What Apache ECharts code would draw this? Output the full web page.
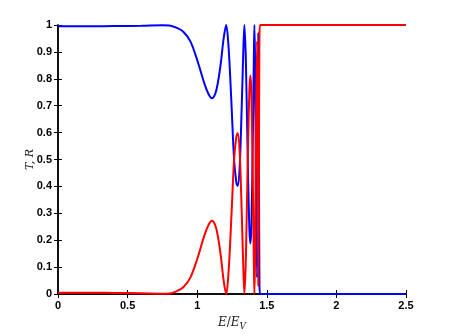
<!DOCTYPE html>
<html>
<head>
<meta charset="utf-8">
<script src="https://cdn.jsdelivr.net/npm/echarts@6/dist/echarts.min.js"></script>
<style>
  html, body { margin: 0; padding: 0; background: #fff; }
  #chart { width: 449px; height: 336px; }
</style>
</head>
<body>
<div id="chart"></div>
<script>
// energy E/E_V
const energy = [0, 0.2, 0.4, 0.6, 0.75, 0.8, 0.85, 0.9, 0.95, 1.0, 1.05, 1.08, 1.105, 1.13, 1.15, 1.17, 1.19, 1.208,
  1.225, 1.245, 1.265, 1.28, 1.291, 1.305, 1.32, 1.33, 1.339, 1.35, 1.365, 1.375, 1.382, 1.39, 1.4, 1.407, 1.411,
  1.416, 1.423, 1.43, 1.435, 1.439, 1.443, 1.447, 1.452, 1.5, 2.0, 2.5]
// transmission T (blue)
const transT = [0.995, 0.995, 0.996, 0.997, 0.999, 0.998, 0.99, 0.975, 0.94, 0.87, 0.785, 0.745, 0.728, 0.745, 0.79, 0.86, 0.95, 1.0,
  0.92, 0.72, 0.5, 0.42, 0.402, 0.47, 0.7, 0.88, 1.0, 0.86, 0.45, 0.24, 0.188, 0.26, 0.6, 0.88, 1.0,
  0.85, 0.35, 0.06, 0.45, 0.97, 0.6, 0.05, 0, 0, 0, 0]
// reflection R (red)
const reflR = [0.005, 0.005, 0.004, 0.003, 0.001, 0.002, 0.01, 0.025, 0.06, 0.13, 0.215, 0.255, 0.272, 0.255, 0.21, 0.14, 0.05, 0,
  0.08, 0.28, 0.5, 0.58, 0.598, 0.53, 0.3, 0.12, 0, 0.14, 0.55, 0.76, 0.812, 0.74, 0.4, 0.12, 0,
  0.15, 0.65, 0.94, 0.55, 0.03, 0.4, 0.95, 1, 1, 1, 1]

const tickFont = { color: '#000', fontSize: 11, fontWeight: 'bold', fontFamily: 'Liberation Sans, Arial, sans-serif' }

const chart = echarts.init(document.getElementById('chart'))
const option = {
  animation: false,
  grid: { left: 58, right: 43, top: 25, bottom: 38 },
  xAxis: [
    {
      type: 'value', min: 0, max: 2.5, interval: 0.5, position: 'bottom',
      axisLine: { lineStyle: { color: '#000', width: 1.5 } },
      axisTick: { inside: true, length: 4, lineStyle: { color: '#000' } },
      splitLine: { show: false },
      axisLabel: Object.assign({ margin: 6, formatter: v => String(v) }, tickFont),
      name: '{i|E}{n|/}{i|E}{s|V}',
      nameLocation: 'middle',
      nameGap: 20,
      nameTextStyle: {
        rich: {
          i: { fontFamily: 'DejaVu Serif', fontStyle: 'italic', fontSize: 12, color: '#222' },
          n: { fontFamily: 'DejaVu Serif', fontSize: 12, color: '#222' },
          s: { fontFamily: 'DejaVu Serif', fontStyle: 'italic', fontSize: 9, color: '#222', padding: [8, 0, 0, 0] }
        }
      }
    },
    {
      type: 'value', min: 0, max: 2.5, interval: 0.5, position: 'top',
      axisLine: { lineStyle: { color: '#000', width: 1.5 } },
      axisTick: { inside: true, length: 4, lineStyle: { color: '#000' } },
      axisLabel: { show: false },
      splitLine: { show: false }
    }
  ],
  yAxis: [
    {
      type: 'value', min: 0, max: 1, interval: 0.1, position: 'left',
      axisLine: { show: true, lineStyle: { color: '#000', width: 1.5 } },
      axisTick: { show: true, inside: true, length: 4, lineStyle: { color: '#000' } },
      splitLine: { show: false },
      axisLabel: Object.assign({ margin: 6, formatter: v => String(+v.toFixed(1)) }, tickFont),
      name: 'T, R',
      nameLocation: 'middle',
      nameGap: 22,
      nameMoveOverlap: false,
      nameRotate: 90,
      nameTextStyle: { fontFamily: 'DejaVu Serif', fontStyle: 'italic', fontSize: 11, color: '#222' }
    },
    {
      type: 'value', min: 0, max: 1, interval: 0.1, position: 'right',
      axisLine: { show: true, lineStyle: { color: '#000', width: 1.5 } },
      axisTick: { show: true, inside: true, length: 4, lineStyle: { color: '#000' } },
      axisLabel: { show: false },
      splitLine: { show: false }
    }
  ],
  series: [
    {
      name: 'T', type: 'line', xAxisIndex: 0, yAxisIndex: 0,
      data: energy.map((e, i) => [e, transT[i]]),
      smooth: 0.35, showSymbol: false,
      lineStyle: { color: '#0000ff', width: 2 }
    },
    {
      name: 'R', type: 'line', xAxisIndex: 0, yAxisIndex: 0,
      data: energy.map((e, i) => [e, reflR[i]]),
      smooth: 0.35, showSymbol: false,
      lineStyle: { color: '#ff0000', width: 2 }
    }
  ]
}
chart.setOption(option)
</script>
</body>
</html>
